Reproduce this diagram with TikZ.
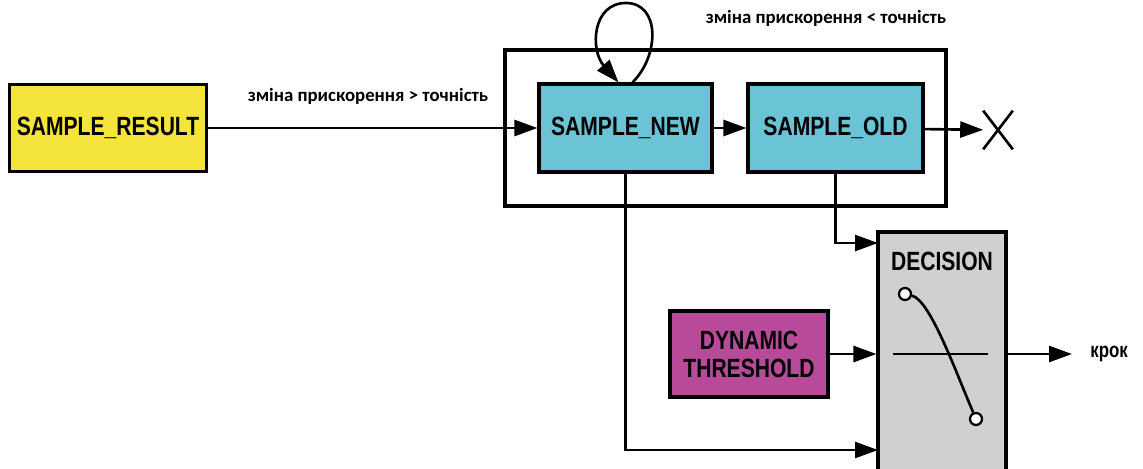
\documentclass[tikz,border=0pt]{standalone}
\usepackage{fontspec}
\setmainfont{Liberation Sans}
\newfontfamily\boxfont[FakeStretch=0.8]{Liberation Sans}
\newfontfamily\labelfont{Carlito}
\usepackage{tikz}
\usetikzlibrary{arrows.meta,shapes.misc}
\definecolor{yellowbox}{RGB}{245,228,60}
\definecolor{cyanbox}{RGB}{106,196,214}
\definecolor{magentabox}{RGB}{184,74,154}
\definecolor{greybox}{RGB}{208,208,208}

\begin{document}
\begin{tikzpicture}[x=0.02cm,y=-0.02cm,
		blk/.style={draw, line width=1.8pt, inner sep=0pt, align=center, font=\boxfont\bfseries\fontsize{15}{16}\selectfont},
		arr/.style={line width=1.5pt, -{Triangle[length=0.46cm,width=0.32cm]}},
		lbl/.style={font=\labelfont\bfseries\fontsize{10.7}{12}\selectfont, inner sep=0pt}]
		\useasboundingbox (0,0) rectangle (1143,468);
		\clip (0,0) rectangle (1143,468);
		\node[blk, fill=yellowbox, minimum width=3.94cm, minimum height=1.74cm] (res) at (108,128) {SAMPLE\_RESULT};
		\node[draw, line width=1.8pt, minimum width=8.82cm, minimum height=3.12cm] (grp) at (725.5,128) {};
		\node[blk, fill=cyanbox, minimum width=3.46cm, minimum height=1.76cm] (new) at (625.5,128) {SAMPLE\_NEW};
		\node[blk, fill=cyanbox, minimum width=3.5cm, minimum height=1.76cm] (old) at (835.5,128) {SAMPLE\_OLD};
		\node[blk, fill=magentabox, minimum width=3.16cm, minimum height=1.72cm] (dyn) at (749,354) {DYNAMIC\\THRESHOLD};
		\node[blk, fill=greybox, minimum width=2.56cm, minimum height=4.88cm] (dec) at (942,354) {};
		\node[font=\boxfont\bfseries\fontsize{15}{16}\selectfont] (dectxt) at (942,261) {DECISION};
		\node[cross out, draw, line width=1.5pt, minimum width=0.54cm, minimum height=0.72cm, inner sep=0pt] (xm) at (998,130) {};
		\node[lbl] (lblhi) at (826,18) {зміна прискорення < точність};
		\node[lbl] (lbllo) at (368,96) {зміна прискорення > точність};
		\node[font=\boxfont\bfseries\fontsize{12}{14}\selectfont, anchor=west, inner sep=0pt] (krok) at (1090,354) {крок};
		\coordinate (inhi) at (878,243);
		\coordinate (inlo) at (878,450);

		\draw[arr] (res) -- (new);
		\draw[arr] (new) -- (old);
		\draw[arr] (old) -- (xm);
		\draw[arr] ([xshift=0.14cm]new.north) .. controls (660,55) and (660,3) .. (626,3) .. controls (592,3) and (590,50) .. ([xshift=-0.14cm]new.north);
		\draw[arr] (old.south) |- (inhi);
		\draw[arr] (new.south) |- (inlo);
		\draw[arr] (dyn) -- (dec);
		\draw[arr, shorten >=0.36cm] (dec) -- (krok.west);

		\draw[line width=1.5pt] (893,354) -- (988,354);
		\node[circle, draw, fill=white, line width=1.3pt, minimum size=0.24cm, inner sep=0pt] (sw1) at (905,294) {};
		\node[circle, draw, fill=white, line width=1.3pt, minimum size=0.24cm, inner sep=0pt] (sw2) at (976,419) {};
		\draw[line width=1.5pt] (sw1) .. controls (930,300) and (955,370) .. (sw2);
	\end{tikzpicture}
\end{document}
